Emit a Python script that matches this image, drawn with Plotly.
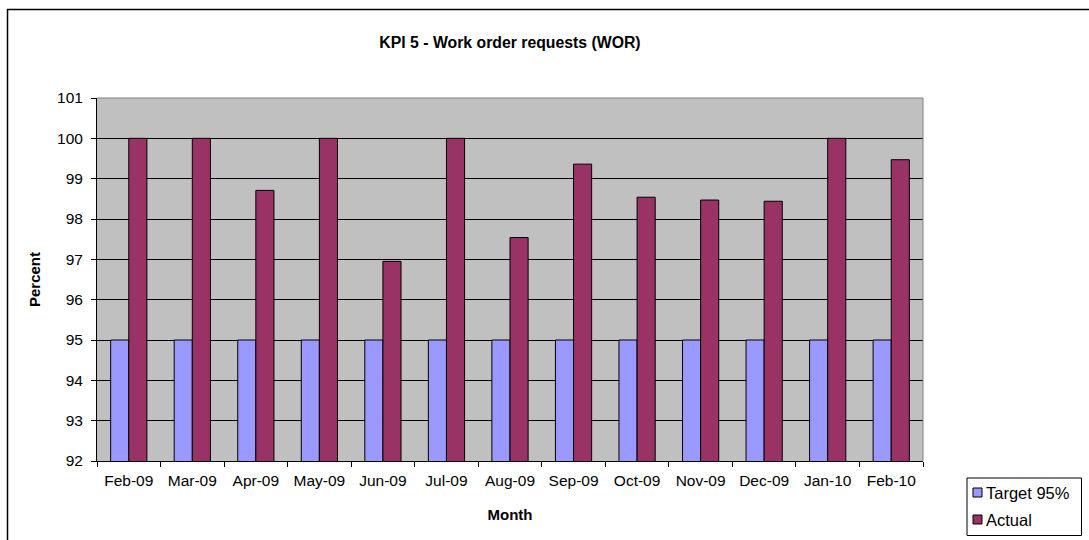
import plotly.graph_objects as go

months = ["Feb-09", "Mar-09", "Apr-09", "May-09", "Jun-09", "Jul-09", "Aug-09",
          "Sep-09", "Oct-09", "Nov-09", "Dec-09", "Jan-10", "Feb-10"]
target = [95] * 13
actual = [100, 100, 98.71, 100, 96.95, 100, 97.54, 99.36, 98.54, 98.47, 98.44, 100, 99.47]
y_ticks = list(range(92, 102))
series_names = ["Target 95%", "Actual"]
series_colors = ["#9999FF", "#993366"]

W, H = 1089, 540
L, R, T, B = 97, 923, 98, 461
pw, ph = R - L, B - T

def px(x):
    return (x - L) / pw

def py(y):
    return (B - y) / ph

fig = go.Figure()
for name, vals, col in zip(series_names, [target, actual], series_colors):
    fig.add_trace(go.Bar(name=name, x=months, y=vals,
                         marker=dict(color=col, line=dict(color="black", width=1))))

# custom legend (Excel style)
shapes = [
    dict(type="line", xref="paper", yref="paper", x0=0, x1=1, y0=1, y1=1,
         line=dict(color="#808080", width=1)),
    dict(type="line", xref="paper", yref="paper", x0=1, x1=1, y0=0, y1=1,
         line=dict(color="#808080", width=1)),
    dict(type="rect", xref="paper", yref="paper", x0=px(7.5), x1=px(1100),
         y0=py(550), y1=py(9.5), line=dict(color="black", width=1.5), layer="below"),
    dict(type="rect", xref="paper", yref="paper", x0=px(967), x1=px(1081.5),
         y0=py(535.5), y1=py(478), line=dict(color="black", width=1), fillcolor="white"),
]
annotations = []
for i, (name, col) in enumerate(zip(series_names, series_colors)):
    cy = 492.5 + i * 27
    shapes.append(dict(type="rect", xref="paper", yref="paper", x0=px(973), x1=px(982),
                       y0=py(cy + 4.5), y1=py(cy - 4.5), fillcolor=col,
                       line=dict(color="black", width=1)))
    annotations.append(dict(xref="paper", yref="paper", x=px(984), y=py(cy),
                            xanchor="left", yanchor="middle", showarrow=False,
                            text=name, font=dict(size=16.5)))

fig.update_layout(
    width=W, height=H,
    margin=dict(l=L, r=W - R, t=T, b=H - B, autoexpand=False),
    paper_bgcolor="white", plot_bgcolor="#C0C0C0",
    barmode="group", bargap=0.43, bargroupgap=0,
    font=dict(family="Arial, Liberation Sans, sans-serif", size=15.5, color="black"),
    title=dict(text="<b>KPI 5 - Work order requests (WOR)</b>", x=0.5, xref="paper",
               y=1 - 42 / H, yanchor="middle", font=dict(size=15.8)),
    showlegend=False,
    xaxis=dict(title=dict(text="<b>Month</b>", standoff=21, font=dict(size=15)),
               showline=True, linecolor="black", linewidth=1, mirror=False,
               ticks="outside", tickson="boundaries", ticklen=5, tickcolor="black",
               ticklabelstandoff=5, showgrid=False),
    yaxis=dict(title=dict(text="<b>Percent</b>", standoff=12, font=dict(size=15)),
               range=[92, 101], tickvals=y_ticks, showline=True, linecolor="black",
               linewidth=1, ticks="outside", ticklen=5, tickcolor="black",
               ticklabelstandoff=5,
               showgrid=True, gridcolor="black", gridwidth=1, zeroline=False),
    shapes=shapes,
    annotations=annotations,
)

fig.write_html("out.html", post_script="document.body.style.margin='0px';",
               config={"displayModeBar": False})
